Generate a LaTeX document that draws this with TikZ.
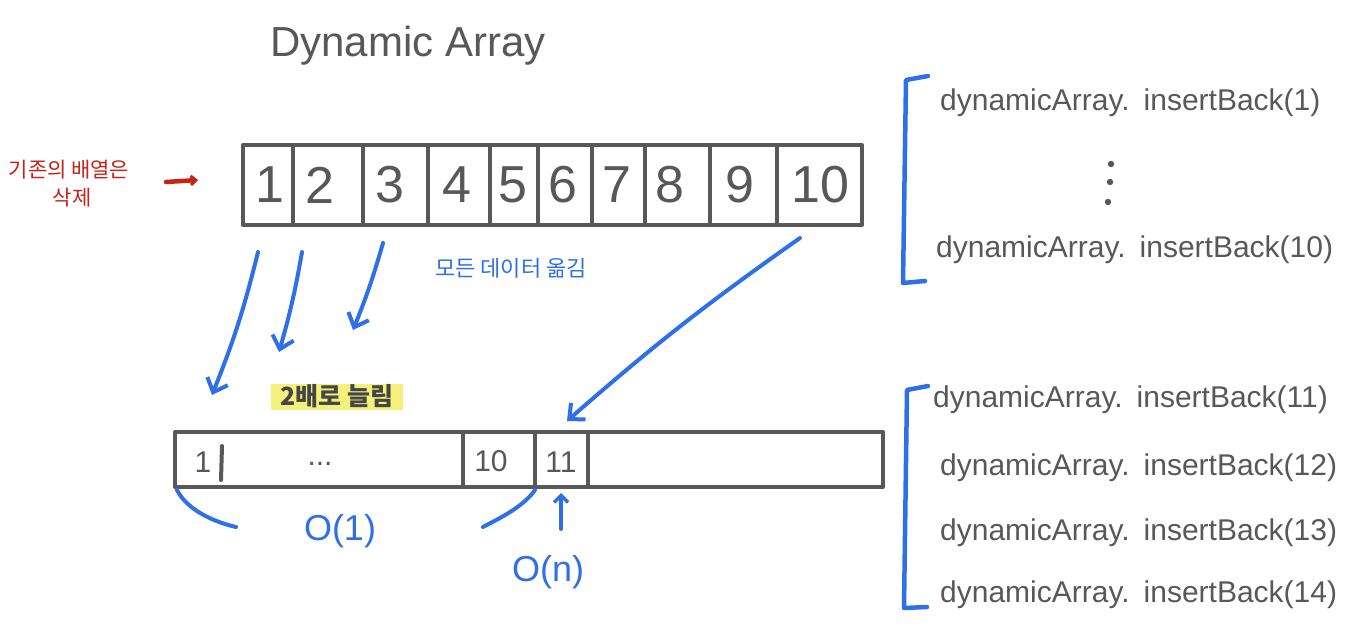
\documentclass[tikz,border=0pt]{standalone}
\usepackage{fontspec}
\setmainfont{Liberation Sans}
\newfontfamily\krfont{Noto Sans CJK KR}
\usetikzlibrary{arrows.meta}
\definecolor{ink}{HTML}{585858}
\definecolor{pen}{HTML}{2F6FE8}
\definecolor{redpen}{HTML}{C42318}
\definecolor{hl}{HTML}{F3F07C}
\begin{document}
\begin{tikzpicture}[x=1pt,y=-1pt,line cap=round,line join=round,
  box/.style={draw=ink,line width=4pt},
  bignum/.style={text=ink,inner sep=0pt,font=\fontsize{52}{52}\selectfont},
  smallnum/.style={text=ink,inner sep=0pt,font=\fontsize{30}{30}\selectfont},
  title/.style={text=ink,inner sep=0pt,font=\fontsize{42}{42}\selectfont},
  code/.style={text=ink,inner sep=0pt,anchor=west,font=\fontsize{30}{30}\selectfont},
  bluetext/.style={text=pen,inner sep=0pt},
  arr/.style={draw=pen,line width=4pt,-{Straight Barb[length=12pt,width=22pt,line width=4pt]}},
  bluecurve/.style={draw=pen,line width=4pt},
  redarr/.style={draw=redpen,line width=4.5pt,-{Straight Barb[length=5pt,width=9pt,line width=3pt]}},
  bracket/.style={draw=pen,line width=4.5pt}]
\useasboundingbox (0,0) rectangle (1350,642);

% title
\node[title] (title) at (408,46) {Dynamic Array};

% red note
\node[text=redpen,inner sep=0pt,font=\krfont\fontsize{21}{21}\selectfont] (note1) at (69,170) {기존의 배열은};
\node[text=redpen,inner sep=0pt,font=\krfont\fontsize{21}{21}\selectfont] (note2) at (72,198) {삭제};
\coordinate (ra1) at (166,182);
\coordinate (ra2) at (198,180);
\draw[redarr] (ra1) -- (ra2);

% top array
\draw[box] (243,145) rectangle (862,225);
\foreach \x in {293,363,428,490,538,592,645,710,777}
  \draw[box] (\x,145) -- (\x,225);
\foreach \n/\x in {1/270,2/320,3/390,4/457,5/513,6/563,7/617,8/670,9/740,10/820}
  \node[bignum] (t\n) at (\x,185) {\n};

% moving arrows
\coordinate (m1s) at (258,252); \coordinate (m1e) at (212,395);
\coordinate (m2s) at (302,252); \coordinate (m2e) at (279,352);
\coordinate (m3s) at (383,243); \coordinate (m3e) at (353,330);
\coordinate (m4s) at (800,238); \coordinate (m4e) at (567,421);
\draw[arr] (m1s) to[bend left=4] (m1e);
\draw[arr] (m2s) to[bend left=3] (m2e);
\draw[arr] (m3s) to[bend left=3] (m3e);
\draw[arr] (m4s) to[bend right=3] (m4e);
\node[bluetext,font=\krfont\fontsize{22}{22}\selectfont] (move) at (511,268) {모든 데이터 옮김};

% doubled label
\fill[hl] (271,384) rectangle (403,410);
\node[text=ink!80!black,inner sep=0pt,font=\krfont\bfseries\fontsize{25}{25}\selectfont] (double) at (337,396) {2배로 늘림};

% bottom array
\draw[box] (175,432) rectangle (883,487);
\foreach \x in {463,535,588}
  \draw[box] (\x,432) -- (\x,487);
\draw[box] (222,446) -- (221,480);
\node[smallnum] (b1) at (203,462) {1};
\node[smallnum] (bdots) at (320,464) {...};
\node[smallnum] (b10) at (491,461) {10};
\node[smallnum] (b11) at (561,462) {11};

% complexity marks
\coordinate (c1s) at (177,490); \coordinate (c1e) at (236,527);
\coordinate (c2s) at (535,490); \coordinate (c2e) at (483,527);
\draw[bluecurve] (c1s) .. controls (186,508) and (210,521) .. (c1e);
\draw[bluecurve] (c2s) .. controls (523,507) and (500,518) .. (c2e);
\node[bluetext,font=\fontsize{36}{36}\selectfont] (o1) at (340,531) {O(1)};
\coordinate (u1) at (561,529); \coordinate (u2) at (561,493);
\draw[draw=pen,line width=4pt,-{Straight Barb[length=7pt,width=14pt,line width=3.5pt]}] (u1) -- (u2);
\node[bluetext,font=\fontsize{36}{36}\selectfont] (on) at (548,572) {O(n)};

% right brackets
\draw[bracket] (928,76) -- (906,80) -- (903,283) -- (925,281);
\draw[bracket] (928,386) -- (907,390) -- (904,608) -- (927,607);

\node[code] (l1) at (940,103) {dynamicArray.\hspace{14pt}insertBack(1)};
\fill[ink] (1111,164) circle (3.2);
\fill[ink] (1110,182) circle (3.2);
\fill[ink] (1108,202) circle (3.2);
\node[code] (l10) at (936,250) {dynamicArray.\hspace{14pt}insertBack(10)};

\node[code] (l11) at (933,400) {dynamicArray.\hspace{14pt}insertBack(11)};
\node[code] (l12) at (940,468) {dynamicArray.\hspace{14pt}insertBack(12)};
\node[code] (l13) at (940,533) {dynamicArray.\hspace{14pt}insertBack(13)};
\node[code] (l14) at (940,595) {dynamicArray.\hspace{14pt}insertBack(14)};
\end{tikzpicture}
\end{document}
